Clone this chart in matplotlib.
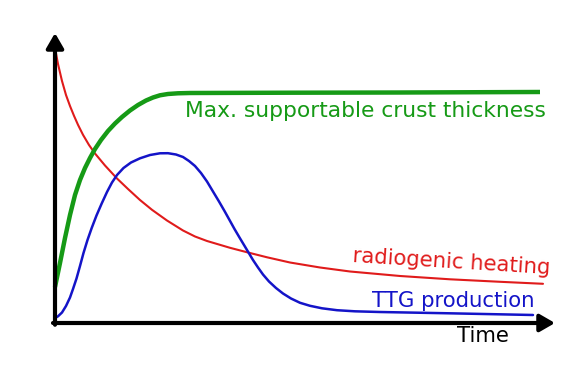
import matplotlib
matplotlib.use("Agg")
import matplotlib.pyplot as plt

# Time axis values (arbitrary units) and curve values
red_t = [0.00, 0.06, 0.14, 0.22, 0.30, 0.38, 0.46, 0.56, 0.68, 0.80, 1.00, 1.24,
         1.46, 1.70, 1.94, 2.24, 2.56, 2.80, 3.04, 3.50, 3.86, 4.24, 4.70, 5.30,
         5.90, 6.90, 7.90, 8.90, 9.76]
red_y = [9.483, 8.931, 8.345, 7.862, 7.483, 7.145, 6.834, 6.490, 6.138, 5.845,
         5.431, 4.983, 4.621, 4.241, 3.903, 3.534, 3.190, 2.983, 2.828, 2.593,
         2.431, 2.266, 2.086, 1.914, 1.776, 1.621, 1.507, 1.421, 1.352]

blue_t = [0.00, 0.06, 0.14, 0.22, 0.30, 0.36, 0.43, 0.50, 0.57, 0.65, 0.734, 0.83,
          0.934, 1.04, 1.14, 1.24, 1.37, 1.52, 1.70, 1.90, 2.10, 2.26, 2.42, 2.56,
          2.68, 2.80, 2.92, 3.04, 3.16, 3.28, 3.39, 3.49, 3.59, 3.69, 3.78, 3.87,
          3.96, 4.06, 4.16, 4.28, 4.42, 4.56, 4.72, 4.90, 5.10, 5.34, 5.64, 6.00,
          6.50, 7.90, 9.56]
blue_y = [0.172, 0.231, 0.362, 0.586, 0.879, 1.172, 1.534, 1.966, 2.414, 2.862,
          3.276, 3.707, 4.121, 4.517, 4.845, 5.103, 5.345, 5.534, 5.679, 5.793,
          5.852, 5.855, 5.810, 5.724, 5.586, 5.414, 5.172, 4.879, 4.534, 4.190,
          3.862, 3.552, 3.241, 2.948, 2.690, 2.431, 2.172, 1.914, 1.672, 1.431,
          1.207, 1.017, 0.845, 0.697, 0.593, 0.507, 0.441, 0.403, 0.379, 0.334,
          0.276]

green_t = [0.00, 0.10, 0.20, 0.30, 0.40, 0.50, 0.60, 0.70, 0.80, 0.92, 1.06, 1.20,
           1.34, 1.50, 1.66, 1.82, 1.96, 2.10, 2.26, 2.46, 2.70, 4.70, 6.90, 9.70]
green_y = [1.241, 2.069, 2.931, 3.724, 4.414, 4.931, 5.345, 5.690, 6.000, 6.310,
           6.621, 6.879, 7.103, 7.328, 7.517, 7.672, 7.776, 7.852, 7.897, 7.921,
           7.931, 7.941, 7.948, 7.966]

labels = ["Max. supportable crust thickness", "radiogenic heating",
          "TTG production", "Time"]

GREEN = "#169a16"
RED = "#e01b1b"
BLUE = "#1414c8"

fig = plt.figure(figsize=(5.78, 3.83), dpi=100)
ax = fig.add_axes([55 / 578, (383 - 323) / 383, 500 / 578, 290 / 383])
ax.set_xlim(0, 10)
ax.set_ylim(0, 10)
ax.axis("off")

arrow_style = "-|>,head_length=9,head_width=5.2"
ax.annotate("", xy=(0, 10), xytext=(0, -0.06),
            arrowprops=dict(arrowstyle=arrow_style, lw=3, color="black",
                            shrinkA=0, shrinkB=0, mutation_scale=1),
            annotation_clip=False)
ax.annotate("", xy=(10, 0), xytext=(-0.04, 0),
            arrowprops=dict(arrowstyle=arrow_style, lw=3, color="black",
                            shrinkA=0, shrinkB=0, mutation_scale=1),
            annotation_clip=False)

ax.plot(red_t, red_y, color=RED, lw=1.5, clip_on=False,
        solid_capstyle="round", solid_joinstyle="round")
ax.plot(blue_t, blue_y, color=BLUE, lw=1.8, clip_on=False,
        solid_capstyle="round", solid_joinstyle="round")
ax.plot(green_t, green_y, color=GREEN, lw=3.2, clip_on=False,
        solid_capstyle="butt", solid_joinstyle="round")

fs = 15.3
ax.text(2.6, 7.10, labels[0], color=GREEN, fontsize=15.7, ha="left", va="baseline",
        family="DejaVu Sans")
ax.text(5.94, 2.10, labels[1], color=RED, fontsize=fs, ha="left", va="baseline",
        rotation=-3.5, rotation_mode="anchor", family="DejaVu Sans")
ax.text(6.34, 0.55, labels[2], color=BLUE, fontsize=fs, ha="left", va="baseline",
        family="DejaVu Sans")
ax.text(8.04, -0.66, labels[3], color="black", fontsize=fs, ha="left", va="baseline",
        family="DejaVu Sans", clip_on=False)

fig.savefig("out.png", dpi=100)
